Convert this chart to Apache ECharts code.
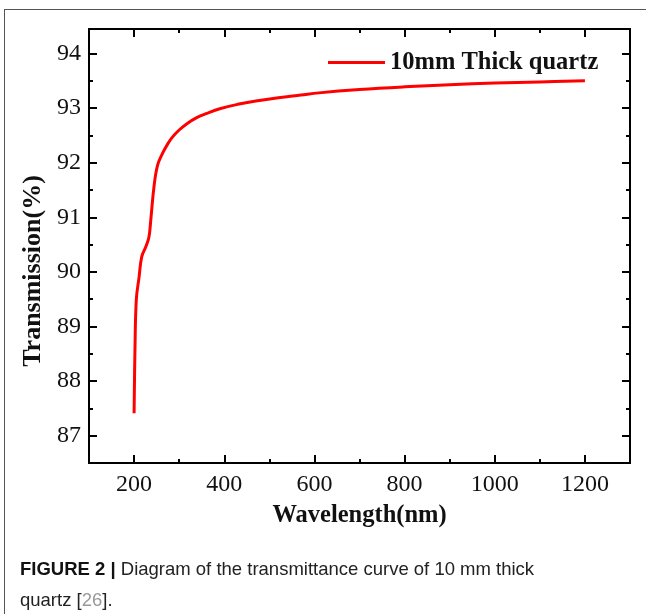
<!DOCTYPE html>
<html>
<head>
<meta charset="utf-8">
<script src="https://cdn.jsdelivr.net/npm/echarts@6/dist/echarts.min.js"></script>
<style>
  html, body {margin: 0; padding: 0; background: #fff;}
  #chart {position: absolute; left: 0; top: 0; width: 646px; height: 614px;}
  #frame {position: absolute; left: 4px; top: 9px; right: 0; bottom: 0; border-top: 1px solid #555; border-left: 1px solid #555;}
</style>
</head>
<body>
<div id="frame"></div>
<div id="chart"></div>
<script>
// 波长 (nm) 和透过率 (%)
var wavelength = [200, 202, 205, 211, 217, 226, 233, 237, 244, 252, 263, 275, 285, 300, 318, 340, 360, 390, 430, 470, 520, 570, 610, 700, 800, 900, 1000, 1100, 1200]
var transmission = [87.41, 88.6, 89.5, 89.9, 90.28, 90.46, 90.64, 90.95, 91.55, 91.95, 92.17, 92.35, 92.47, 92.6, 92.72, 92.83, 92.9, 92.99, 93.07, 93.13, 93.19, 93.24, 93.28, 93.34, 93.39, 93.43, 93.46, 93.48, 93.5]
var xMajor = [200, 400, 600, 800, 1000, 1200]
var xMinor = [300, 500, 700, 900, 1100]
var yMajor = [87, 88, 89, 90, 91, 92, 93, 94]
var yMinor = [87.5, 88.5, 89.5, 90.5, 91.5, 92.5, 93.5]
var seriesName = '10mm Thick quartz'

var serif = 'Liberation Serif'
var axisColor = '#000'
var plain = function (v) { return String(v) }

function xAxisOf (pos, ticks, len, labels) {
  return {
    type: 'value', position: pos, min: 100, max: 1300,
    axisLine: {show: true, onZero: false, lineStyle: {color: axisColor, width: 2}},
    axisTick: {show: true, inside: true, length: len, customValues: ticks, lineStyle: {color: axisColor, width: 2}},
    axisLabel: labels ? {show: true, customValues: ticks, formatter: plain, margin: 10, color: '#111', fontFamily: serif, fontSize: 24} : {show: false},
    splitLine: {show: false}
  }
}
function yAxisOf (pos, ticks, len, labels) {
  return {
    type: 'value', position: pos, min: 86.5, max: 94.45,
    axisLine: {show: true, onZero: false, lineStyle: {color: axisColor, width: 2}},
    axisTick: {show: true, inside: true, length: len, customValues: ticks, lineStyle: {color: axisColor, width: 2}},
    axisLabel: labels ? {show: true, customValues: ticks, formatter: plain, margin: 8, color: '#111', fontFamily: serif, fontSize: 24} : {show: false},
    splitLine: {show: false}
  }
}

var xMain = xAxisOf('bottom', xMajor, 8, true)
xMain.name = 'Wavelength(nm)'
xMain.nameLocation = 'middle'
xMain.nameGap = 40
xMain.nameTextStyle = {color: '#111', fontFamily: serif, fontWeight: 'bold', fontSize: 24.5}

var yMain = yAxisOf('left', yMajor, 8, true)
yMain.name = 'Transmission(%)'
yMain.nameLocation = 'middle'
yMain.nameGap = 38
yMain.nameTextStyle = {color: '#111', fontFamily: serif, fontWeight: 'bold', fontSize: 26, padding: [0, 50, 0, 0]}

var option = {
  backgroundColor: 'transparent',
  animation: false,
  grid: {left: 89, right: 16, top: 29, bottom: 151, containLabel: false},
  title: {
    left: 20,
    top: 554,
    padding: 0,
    text: '{b|FIGURE 2 |} Diagram of the transmittance curve of 10 mm thick\nquartz [{g|26}].',
    textStyle: {
      fontFamily: 'Liberation Sans', fontSize: 18.5, fontWeight: 'normal', color: '#222', lineHeight: 31,
      rich: {
        b: {fontFamily: 'Liberation Sans', fontSize: 18.5, fontWeight: 'bold', color: '#111', lineHeight: 31},
        g: {fontFamily: 'Liberation Sans', fontSize: 18.5, color: '#999', lineHeight: 31}
      }
    }
  },
  legend: {
    data: [seriesName],
    left: 323,
    top: 45,
    icon: 'rect',
    itemWidth: 57,
    itemHeight: 3,
    textStyle: {color: '#111', fontFamily: serif, fontWeight: 'bold', fontSize: 24.5}
  },
  xAxis: [
    xMain,
    xAxisOf('bottom', xMinor, 4, false),
    xAxisOf('top', xMajor, 8, false),
    xAxisOf('top', xMinor, 4, false)
  ],
  yAxis: [
    yMain,
    yAxisOf('left', yMinor, 4, false),
    yAxisOf('right', yMajor, 8, false),
    yAxisOf('right', yMinor, 4, false)
  ],
  series: [{
    name: seriesName,
    type: 'line',
    xAxisIndex: 0,
    yAxisIndex: 0,
    data: wavelength.map(function (w, i) { return [w, transmission[i]] }),
    smooth: 0.4,
    showSymbol: false,
    color: '#ff0000',
    lineStyle: {color: '#ff0000', width: 3}
  }]
}

var chart = echarts.init(document.getElementById('chart'), null, {renderer: 'canvas'})
chart.setOption(option)
</script>
</body>
</html>
